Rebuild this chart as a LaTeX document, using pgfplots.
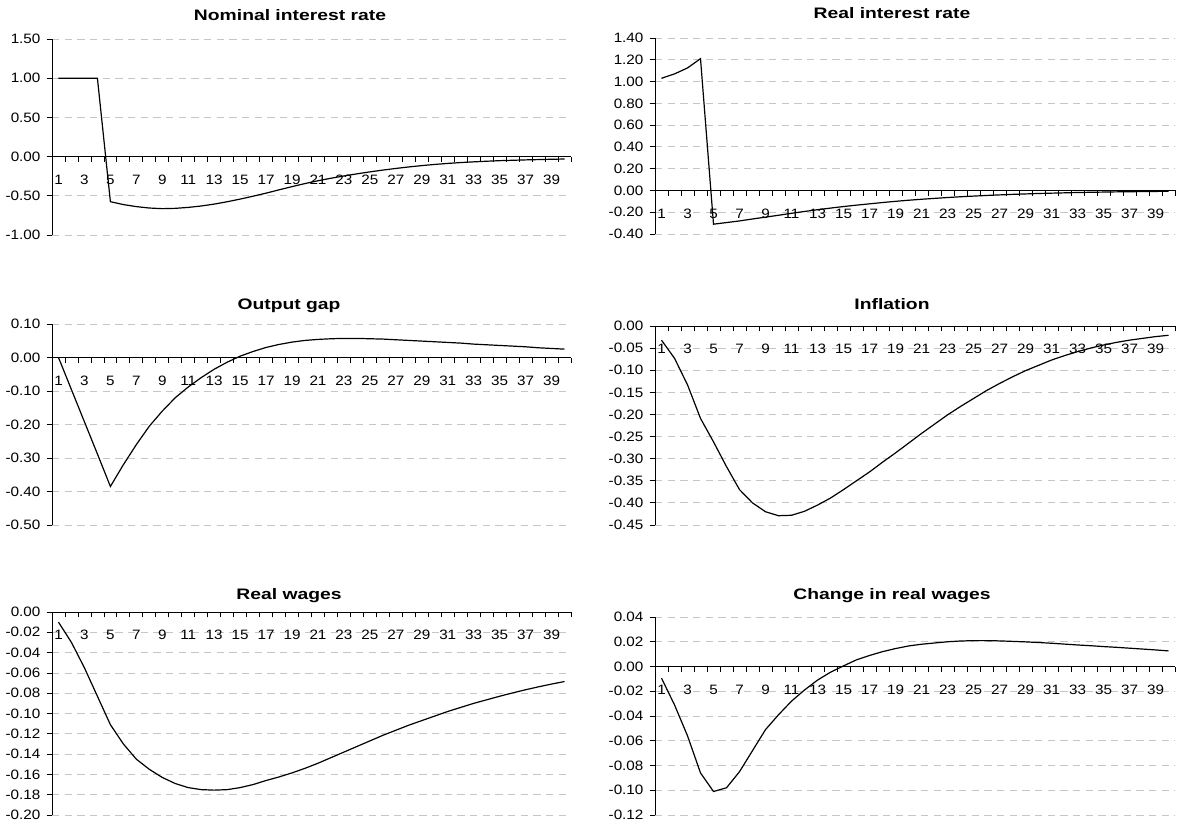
\documentclass[border=0pt]{standalone}
\usepackage{pgfplots}
\pgfplotsset{compat=1.18}
\usepackage{fontspec}
\setmainfont{Liberation Sans}

\pgfplotsset{
  irf/.style={
    scale only axis,
    xmin=0.5, xmax=40.5,
    axis x line=middle, axis y line=left,
    axis line style={-, black, line width=0.7pt},
    xtick={0.5,1.5,...,40.5}, xticklabels={},
    extra x ticks={1,3,...,39},
    extra x tick labels={1,3,5,7,9,11,13,15,17,19,21,23,25,27,29,31,33,35,37,39},
    extra x tick style={major tick length=0pt,
      xticklabel style={anchor=north, inner sep=0pt, yshift=-13.5pt}},
    xtick align=outside, ytick align=outside,
    major tick length=4pt,
    tick style={black, line width=0.6pt},
    ymajorgrids,
    major grid style={gray!45, line width=0.6pt, dash pattern=on 5.5pt off 4pt},
    scaled y ticks=false,
    yticklabel style={/pgf/number format/fixed, /pgf/number format/fixed zerofill, /pgf/number format/precision=2, /pgf/number format/assume math mode=true},
    tick label style={font=\fontsize{10.2}{12}\selectfont, xscale=1.12},
    yticklabel style={anchor=east, inner sep=0pt, xshift=-4pt},
    clip=false,
  },
  irfline/.style={black, line width=0.9pt, mark=none},
}

\begin{document}
\begin{tikzpicture}
\useasboundingbox (0,0) rectangle (885pt,621.75pt);

% Titles
\begin{scope}[every node/.style={font=\bfseries\fontsize{11.4}{13}\selectfont, xscale=1.27, anchor=base}]
\node at (217.5pt,606.2pt) {Nominal interest rate};
\node at (669pt,608pt) {Real interest rate};
\node at (216.75pt,389.8pt) {Output gap};
\node at (669pt,389.25pt) {Inflation};
\node at (216.75pt,172.3pt) {Real wages};
\node at (669pt,172.3pt) {Change in real wages};
\end{scope}

% Nominal interest rate
\begin{axis}[irf, at={(39pt,445.5pt)}, anchor=south west, width=389.25pt, height=147pt,
  ymin=-1, ymax=1.5, ytick={-1,-0.5,0,0.5,1,1.5}]
\addplot[irfline] coordinates {
(1,1.00)(2,1.00)(3,1.00)(4,1.00)(5,-0.575)(6,-0.612)(7,-0.638)(8,-0.656)(9,-0.664)(10,-0.660)
(11,-0.648)(12,-0.630)(13,-0.606)(14,-0.576)(15,-0.542)(16,-0.505)(17,-0.466)(18,-0.424)(19,-0.383)(20,-0.344)
(21,-0.308)(22,-0.276)(23,-0.247)(24,-0.220)(25,-0.195)(26,-0.172)(27,-0.151)(28,-0.132)(29,-0.115)(30,-0.100)
(31,-0.087)(32,-0.076)(33,-0.067)(34,-0.059)(35,-0.052)(36,-0.047)(37,-0.042)(38,-0.038)(39,-0.034)(40,-0.031)};
\end{axis}

% Real interest rate
\begin{axis}[irf, at={(491.25pt,446.25pt)}, anchor=south west, width=390pt, height=147pt,
  ymin=-0.4, ymax=1.4, ytick={-0.4,-0.2,0,0.2,0.4,0.6,0.8,1.0,1.2,1.4}]
\addplot[irfline] coordinates {
(1,1.03)(2,1.07)(3,1.125)(4,1.21)(5,-0.31)(6,-0.295)(7,-0.28)(8,-0.262)(9,-0.245)(10,-0.228)
(11,-0.21)(12,-0.193)(13,-0.177)(14,-0.162)(15,-0.148)(16,-0.135)(17,-0.123)(18,-0.111)(19,-0.100)(20,-0.090)
(21,-0.081)(22,-0.073)(23,-0.065)(24,-0.058)(25,-0.052)(26,-0.046)(27,-0.041)(28,-0.036)(29,-0.032)(30,-0.028)
(31,-0.025)(32,-0.022)(33,-0.019)(34,-0.017)(35,-0.015)(36,-0.013)(37,-0.012)(38,-0.010)(39,-0.009)(40,-0.008)};
\end{axis}

% Output gap
\begin{axis}[irf, at={(39pt,228pt)}, anchor=south west, width=389.25pt, height=150.75pt,
  ymin=-0.5, ymax=0.1, ytick={-0.5,-0.4,-0.3,-0.2,-0.1,0,0.1}]
\addplot[irfline] coordinates {
(1,0.00)(2,-0.096)(3,-0.192)(4,-0.288)(5,-0.385)(6,-0.32)(7,-0.26)(8,-0.205)(9,-0.16)(10,-0.12)
(11,-0.088)(12,-0.06)(13,-0.035)(14,-0.014)(15,0.004)(16,0.018)(17,0.030)(18,0.039)(19,0.046)(20,0.051)
(21,0.054)(22,0.056)(23,0.057)(24,0.057)(25,0.056)(26,0.055)(27,0.053)(28,0.051)(29,0.049)(30,0.047)
(31,0.045)(32,0.043)(33,0.040)(34,0.038)(35,0.036)(36,0.034)(37,0.032)(38,0.029)(39,0.027)(40,0.025)};
\end{axis}

% Inflation
\begin{axis}[irf, at={(491.25pt,228pt)}, anchor=south west, width=390pt, height=149.25pt,
  ymin=-0.45, ymax=0, ytick={-0.45,-0.4,-0.35,-0.3,-0.25,-0.2,-0.15,-0.1,-0.05,0}]
\addplot[irfline] coordinates {
(1,-0.032)(2,-0.073)(3,-0.133)(4,-0.209)(5,-0.262)(6,-0.318)(7,-0.37)(8,-0.40)(9,-0.42)(10,-0.429)
(11,-0.428)(12,-0.419)(13,-0.405)(14,-0.389)(15,-0.37)(16,-0.35)(17,-0.33)(18,-0.308)(19,-0.287)(20,-0.265)
(21,-0.243)(22,-0.222)(23,-0.201)(24,-0.182)(25,-0.164)(26,-0.146)(27,-0.13)(28,-0.115)(29,-0.101)(30,-0.089)
(31,-0.077)(32,-0.067)(33,-0.058)(34,-0.050)(35,-0.043)(36,-0.037)(37,-0.032)(38,-0.028)(39,-0.024)(40,-0.021)};
\end{axis}

% Real wages
\begin{axis}[irf, at={(39pt,10.5pt)}, anchor=south west, width=389.25pt, height=152.25pt,
  ymin=-0.2, ymax=0, ytick={-0.2,-0.18,-0.16,-0.14,-0.12,-0.1,-0.08,-0.06,-0.04,-0.02,0}]
\addplot[irfline] coordinates {
(1,-0.010)(2,-0.030)(3,-0.055)(4,-0.083)(5,-0.111)(6,-0.130)(7,-0.145)(8,-0.155)(9,-0.163)(10,-0.169)
(11,-0.173)(12,-0.175)(13,-0.1755)(14,-0.175)(15,-0.173)(16,-0.170)(17,-0.166)(18,-0.1625)(19,-0.1585)(20,-0.154)
(21,-0.149)(22,-0.1435)(23,-0.138)(24,-0.1325)(25,-0.127)(26,-0.1215)(27,-0.1165)(28,-0.1115)(29,-0.107)(30,-0.1025)
(31,-0.098)(32,-0.094)(33,-0.090)(34,-0.0865)(35,-0.0830)(36,-0.0797)(37,-0.0766)(38,-0.0737)(39,-0.0710)(40,-0.0685)};
\end{axis}

% Change in real wages
\begin{axis}[irf, at={(491.25pt,10.5pt)}, anchor=south west, width=390pt, height=148.5pt,
  ymin=-0.12, ymax=0.04, ytick={-0.12,-0.1,-0.08,-0.06,-0.04,-0.02,0,0.02,0.04}]
\addplot[irfline] coordinates {
(1,-0.0094)(2,-0.031)(3,-0.056)(4,-0.086)(5,-0.101)(6,-0.098)(7,-0.085)(8,-0.068)(9,-0.051)(10,-0.039)
(11,-0.028)(12,-0.019)(13,-0.011)(14,-0.0046)(15,0.0005)(16,0.0054)(17,0.0089)(18,0.012)(19,0.0145)(20,0.0166)
(21,0.018)(22,0.019)(23,0.020)(24,0.0206)(25,0.0209)(26,0.0209)(27,0.0207)(28,0.0203)(29,0.0199)(30,0.0194)
(31,0.0188)(32,0.0181)(33,0.0174)(34,0.0168)(35,0.0161)(36,0.0155)(37,0.0148)(38,0.0141)(39,0.0134)(40,0.0126)};
\end{axis}
\end{tikzpicture}
\end{document}
